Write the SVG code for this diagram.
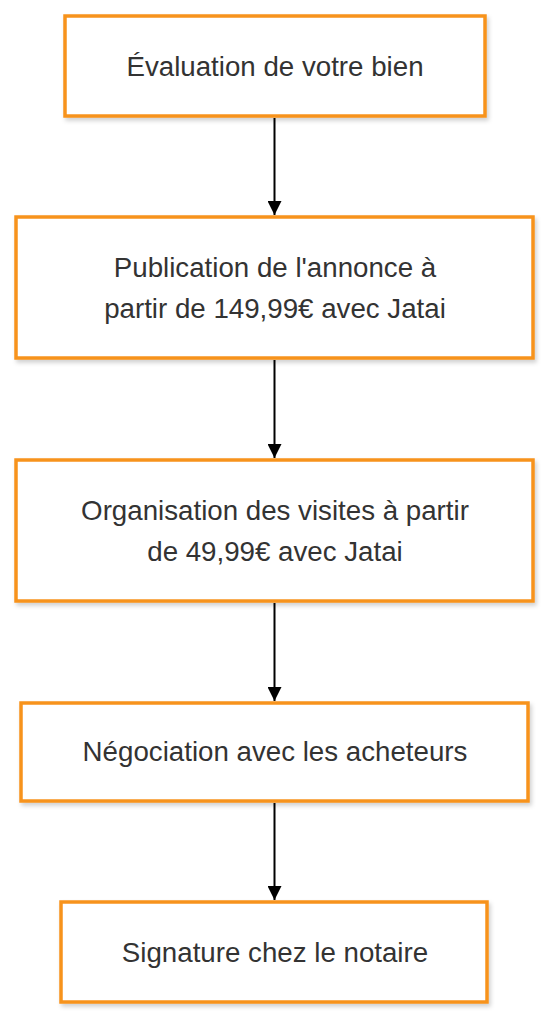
<svg xmlns="http://www.w3.org/2000/svg" width="551" height="1024" viewBox="0 0 551 1024">
<style>
.box{fill:#ffffff;stroke:#f7931e;stroke-width:3.5;filter:url(#sh)}
.lbl{font-family:"Liberation Sans",Arial,sans-serif;font-size:27.7px;fill:#333333;text-anchor:middle}
.edge{stroke:#000000;stroke-width:2;fill:none;marker-end:url(#arr)}
</style>
<defs>
<filter id="sh" x="-10%" y="-10%" width="125%" height="130%">
<feDropShadow dx="2" dy="3" stdDeviation="2" flood-color="#000000" flood-opacity="0.18"/>
</filter>
<marker id="arr" markerWidth="14" markerHeight="14" viewBox="0 0 14 14" refX="14" refY="7" orient="auto" markerUnits="userSpaceOnUse">
<path d="M0,0 L14,7 L0,14 z" fill="#000000"/>
</marker>
</defs>
<rect width="551" height="1024" fill="#ffffff"/>
<g id="connectors">
<line class="edge" x1="274.5" y1="118" x2="274.5" y2="215"/>
<line class="edge" x1="274.5" y1="360" x2="274.5" y2="458"/>
<line class="edge" x1="274.5" y1="603" x2="274.5" y2="701"/>
<line class="edge" x1="274.5" y1="803" x2="274.5" y2="900"/>
</g>
<g id="node1">
<rect class="box" x="65" y="16" width="420" height="100"/>
<text class="lbl" x="275" y="76">Évaluation de votre bien</text>
</g>
<g id="node2">
<rect class="box" x="16" y="217" width="517" height="141"/>
<text class="lbl" x="275" y="277">Publication de l'annonce à</text>
<text class="lbl" x="275" y="318">partir de 149,99€ avec Jatai</text>
</g>
<g id="node3">
<rect class="box" x="16" y="460" width="517" height="141"/>
<text class="lbl" x="275" y="520">Organisation des visites à partir</text>
<text class="lbl" x="275" y="561">de 49,99€ avec Jatai</text>
</g>
<g id="node4">
<rect class="box" x="21" y="703" width="507" height="98"/>
<text class="lbl" x="275" y="761">Négociation avec les acheteurs</text>
</g>
<g id="node5">
<rect class="box" x="61" y="902" width="426" height="100"/>
<text class="lbl" x="275" y="962">Signature chez le notaire</text>
</g>
</svg>
